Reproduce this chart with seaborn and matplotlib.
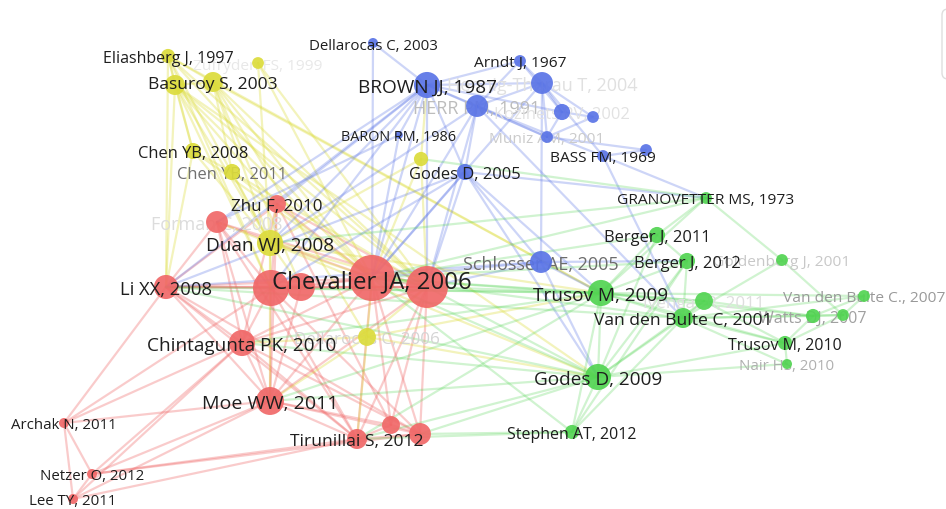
import matplotlib
matplotlib.use("Agg")
import matplotlib.pyplot as plt
import numpy as np
import pandas as pd
import seaborn as sns
from matplotlib.collections import LineCollection
from matplotlib.patches import FancyBboxPatch

# ---------------------------------------------------------------
# Co-citation network: nodes (layout coordinates, weight, cluster)
# ---------------------------------------------------------------
node_ids = [
    # cluster 1 (red)
    "chevalier06", "liu06", "dell07", "duan08b", "lixx08", "forman08", "zhu10",
    "chinta10", "moe11", "tirun12", "red392", "red420", "archak11", "netzer12", "lee11",
    # cluster 2 (yellow)
    "eliash97", "yel175", "basur03", "yel258", "chen08", "chen11", "duan08", "yel421", "dell06",
    # cluster 3 (blue)
    "dell03", "arndt67", "brown87", "thurau04", "herr91", "koz02", "blue593", "muniz01",
    "baron86", "bass69", "blue646", "godes05", "schloss05",
    # cluster 4 (green)
    "granov73", "berger11", "berger12", "golden01", "trusov09", "iyengar11", "vdb01",
    "vdb07", "watts07", "green843", "trusov10", "nair10", "godes09", "stephen12",
]

node_labels = [
    "Chevalier JA, 2006", "", "", "", "Li XX, 2008", "Forman C, 2008", "Zhu F, 2010",
    "Chintagunta PK, 2010", "Moe WW, 2011", "Tirunillai S, 2012", "", "", "Archak N, 2011",
    "Netzer O, 2012", "Lee TY, 2011",
    "Eliashberg J, 1997", "", "Basuroy S, 2003", "Zufryden FS, 1999", "Chen YB, 2008",
    "Chen YB, 2011", "Duan WJ, 2008", "", "Dellarocas C, 2006",
    "Dellarocas C, 2003", "Arndt J, 1967", "BROWN JJ, 1987", "Hennig-Thurau T, 2004",
    "HERR PM, 1991", "Kozinets RV, 2002", "", "Muniz AM, 2001", "BARON RM, 1986",
    "BASS FM, 1969", "", "Godes D, 2005", "Schlosser AE, 2005",
    "GRANOVETTER MS, 1973", "Berger J, 2011", "Berger J, 2012", "Goldenberg J, 2001",
    "Trusov M, 2009", "Iyengar R, 2011", "Van den Bulte C, 2001", "Van den Bulte C., 2007",
    "Watts DJ, 2007", "", "Trusov M, 2010", "Nair HS, 2010", "Godes D, 2009",
    "Stephen AT, 2012",
]

node_x = [
    372, 427, 271, 301, 166, 217, 277, 242, 270, 357, 391, 420, 64, 92, 73,
    168, 175, 213, 258, 193, 232, 270, 421, 367,
    373, 520, 427, 542, 477, 562, 593, 547, 399, 603, 646, 465, 541,
    706, 657, 687, 782, 601, 704, 683, 864, 813, 843, 785, 787, 598, 572,
]

node_y = [
    279, 288, 289, 288, 288, 223, 205, 344, 402, 440, 426, 435, 424, 475, 500,
    57, 86, 83, 64, 152, 173, 244, 160, 338,
    44, 62, 86, 84, 107, 113, 118, 138, 136, 157, 151, 173, 263,
    199, 236, 262, 261, 294, 302, 319, 297, 317, 316, 344, 365, 378, 433,
]

node_weight = [
    106, 88, 65, 39, 29, 24, 16, 34, 39, 20, 16, 24, 5, 5, 5,
    10, 20, 20, 7, 13, 13, 34, 10, 16,
    5, 7, 34, 24, 24, 13, 7, 7, 3, 7, 7, 13, 24,
    7, 13, 13, 7, 34, 16, 20, 7, 10, 7, 10, 5, 34, 10,
]

node_cluster = (["1"] * 15) + (["2"] * 9) + (["3"] * 13) + (["4"] * 14)

edges = [
    # cluster 1
    ("lixx08", "chevalier06"), ("lixx08", "liu06"), ("lixx08", "dell07"), ("lixx08", "duan08b"),
    ("lixx08", "forman08"), ("lixx08", "zhu10"), ("lixx08", "chinta10"), ("lixx08", "moe11"),
    ("lixx08", "tirun12"), ("lixx08", "red420"), ("lixx08", "archak11"),
    ("forman08", "chevalier06"), ("forman08", "liu06"), ("forman08", "dell07"),
    ("forman08", "moe11"), ("forman08", "chinta10"), ("forman08", "tirun12"),
    ("zhu10", "chevalier06"), ("zhu10", "liu06"), ("zhu10", "dell07"), ("zhu10", "moe11"),
    ("zhu10", "chinta10"), ("zhu10", "red392"),
    ("chinta10", "chevalier06"), ("chinta10", "liu06"), ("chinta10", "dell07"),
    ("chinta10", "moe11"), ("chinta10", "tirun12"), ("chinta10", "red420"),
    ("chinta10", "archak11"), ("chinta10", "netzer12"),
    ("moe11", "chevalier06"), ("moe11", "liu06"), ("moe11", "dell07"), ("moe11", "duan08b"),
    ("moe11", "tirun12"), ("moe11", "red392"), ("moe11", "red420"), ("moe11", "netzer12"),
    ("moe11", "lee11"), ("moe11", "archak11"),
    ("tirun12", "chevalier06"), ("tirun12", "liu06"), ("tirun12", "red392"),
    ("tirun12", "red420"), ("tirun12", "netzer12"), ("tirun12", "dell07"),
    ("red392", "chevalier06"), ("red392", "liu06"), ("red392", "red420"),
    ("red420", "chevalier06"), ("red420", "liu06"), ("red420", "dell07"), ("red420", "netzer12"),
    ("chevalier06", "liu06"), ("chevalier06", "dell07"), ("chevalier06", "duan08b"),
    ("liu06", "dell07"), ("liu06", "duan08b"), ("dell07", "duan08b"),
    ("archak11", "netzer12"), ("archak11", "lee11"), ("netzer12", "lee11"),
    ("lee11", "chinta10"), ("lee11", "tirun12"), ("archak11", "dell07"),
    # cluster 2
    ("eliash97", "yel175"), ("eliash97", "basur03"), ("eliash97", "chen08"),
    ("eliash97", "duan08"), ("eliash97", "chevalier06"), ("eliash97", "liu06"),
    ("eliash97", "dell07"), ("eliash97", "trusov09"), ("eliash97", "lixx08"),
    ("yel175", "basur03"), ("yel175", "lixx08"), ("yel175", "chen08"), ("yel175", "duan08"),
    ("yel175", "chevalier06"), ("yel175", "liu06"), ("yel175", "dell07"),
    ("yel175", "godes09"), ("yel175", "zhu10"),
    ("basur03", "chen11"), ("basur03", "duan08"), ("basur03", "chevalier06"),
    ("basur03", "liu06"), ("basur03", "dell06"), ("basur03", "trusov09"), ("basur03", "duan08b"),
    ("yel258", "chevalier06"), ("yel258", "liu06"), ("yel258", "duan08"),
    ("chen08", "chen11"), ("chen08", "duan08"), ("chen08", "chevalier06"), ("chen08", "lixx08"),
    ("chen11", "duan08"), ("chen11", "chevalier06"), ("chen11", "liu06"),
    ("duan08", "chevalier06"), ("duan08", "liu06"), ("duan08", "dell07"), ("duan08", "duan08b"),
    ("duan08", "godes09"), ("duan08", "trusov09"), ("duan08", "zhu10"), ("duan08", "forman08"),
    ("duan08", "moe11"),
    ("yel421", "brown87"), ("yel421", "chevalier06"), ("yel421", "duan08"), ("yel421", "liu06"),
    ("dell06", "chevalier06"), ("dell06", "liu06"), ("dell06", "trusov09"),
    ("dell06", "godes09"), ("dell06", "moe11"), ("dell06", "chinta10"), ("dell06", "tirun12"),
    # cluster 3
    ("brown87", "arndt67"), ("brown87", "thurau04"), ("brown87", "herr91"),
    ("brown87", "baron86"), ("brown87", "godes05"), ("brown87", "chevalier06"),
    ("brown87", "duan08"), ("brown87", "lixx08"), ("brown87", "zhu10"), ("brown87", "liu06"),
    ("brown87", "forman08"), ("brown87", "muniz01"), ("brown87", "koz02"), ("brown87", "dell07"),
    ("arndt67", "thurau04"), ("arndt67", "herr91"), ("arndt67", "koz02"),
    ("thurau04", "schloss05"), ("thurau04", "herr91"), ("thurau04", "koz02"),
    ("thurau04", "muniz01"), ("thurau04", "bass69"), ("thurau04", "blue593"),
    ("thurau04", "chevalier06"),
    ("herr91", "muniz01"), ("herr91", "bass69"), ("herr91", "godes05"),
    ("herr91", "chevalier06"), ("herr91", "duan08"), ("herr91", "liu06"),
    ("dell03", "chevalier06"), ("dell03", "brown87"),
    ("koz02", "muniz01"), ("koz02", "blue593"),
    ("muniz01", "blue646"), ("muniz01", "blue593"),
    ("baron86", "forman08"), ("baron86", "chevalier06"),
    ("bass69", "blue646"),
    ("godes05", "chevalier06"), ("godes05", "liu06"), ("godes05", "trusov09"),
    ("godes05", "godes09"), ("godes05", "schloss05"), ("godes05", "lixx08"), ("godes05", "dell07"),
    ("schloss05", "chevalier06"), ("schloss05", "liu06"), ("schloss05", "trusov09"),
    ("schloss05", "godes09"), ("schloss05", "berger12"), ("schloss05", "lixx08"),
    # cluster 4
    ("herr91", "vdb01"), ("bass69", "vdb01"), ("bass69", "granov73"), ("godes05", "granov73"),
    ("trusov09", "godes09"), ("trusov09", "vdb01"), ("trusov09", "iyengar11"),
    ("trusov09", "berger11"), ("trusov09", "berger12"), ("trusov09", "granov73"),
    ("trusov09", "trusov10"), ("trusov09", "watts07"), ("trusov09", "stephen12"),
    ("trusov09", "chevalier06"), ("trusov09", "liu06"), ("trusov09", "lixx08"),
    ("trusov09", "dell07"), ("trusov09", "moe11"), ("trusov09", "chinta10"),
    ("trusov09", "tirun12"), ("trusov09", "vdb07"),
    ("godes09", "vdb01"), ("godes09", "iyengar11"), ("godes09", "stephen12"),
    ("godes09", "trusov10"), ("godes09", "nair10"), ("godes09", "chevalier06"),
    ("godes09", "liu06"), ("godes09", "moe11"), ("godes09", "tirun12"), ("godes09", "chinta10"),
    ("godes09", "lixx08"), ("godes09", "berger12"), ("godes09", "red420"),
    ("vdb01", "iyengar11"), ("vdb01", "watts07"), ("vdb01", "green843"), ("vdb01", "trusov10"),
    ("vdb01", "nair10"), ("vdb01", "vdb07"), ("vdb01", "berger12"), ("vdb01", "chevalier06"),
    ("vdb01", "lixx08"),
    ("granov73", "berger11"), ("granov73", "chevalier06"), ("granov73", "duan08"),
    ("granov73", "yel421"), ("granov73", "golden01"),
    ("berger11", "berger12"), ("berger11", "chevalier06"), ("berger11", "godes09"),
    ("berger12", "stephen12"), ("berger12", "chevalier06"),
    ("golden01", "green843"), ("golden01", "vdb01"),
    ("watts07", "green843"), ("watts07", "vdb07"), ("watts07", "trusov10"), ("watts07", "iyengar11"),
    ("green843", "vdb07"), ("green843", "trusov10"),
    ("trusov10", "iyengar11"), ("trusov10", "nair10"),
    ("stephen12", "tirun12"), ("stephen12", "red420"), ("stephen12", "chevalier06"),
    ("stephen12", "vdb01"), ("iyengar11", "chevalier06"),
]

# ---------------------------------------------------------------
# Styling
# ---------------------------------------------------------------
cluster_colors = {"1": "#f06868", "2": "#dcdc3c", "3": "#5a74e6", "4": "#52d452"}
edge_alpha = {"1": 0.34, "2": 0.34, "3": 0.30, "4": 0.27}

# labels drawn in grey (partly hidden behind neighbours)
label_grey = {
    "forman08": "#dcdcdc", "chen11": "#707070", "yel258": "#e8e8e8", "herr91": "#bcbcbc",
    "muniz01": "#cbcbcb", "thurau04": "#e0e0e0", "koz02": "#e2e2e2", "schloss05": "#6c6c6c",
    "golden01": "#c8c8c8", "iyengar11": "#dedede", "vdb07": "#999999", "watts07": "#a0a0a0",
    "nair10": "#b0b0b0", "dell06": "#d4d4d4",
}

nodes = pd.DataFrame({
    "id": node_ids, "label": node_labels, "x": node_x, "y": node_y,
    "weight": node_weight, "cluster": node_cluster,
}).set_index("id", drop=False)

W, H, DPI = 946, 510, 100
fig = plt.figure(figsize=(W / DPI, H / DPI), dpi=DPI, facecolor="white")
ax = fig.add_axes([0, 0, 1, 1])
ax.set_facecolor("white")

# edges, coloured by the cluster of their first endpoint
segs, cols = [], []
for a, b in edges:
    ca = nodes.at[a, "cluster"]
    segs.append([(nodes.at[a, "x"], nodes.at[a, "y"]), (nodes.at[b, "x"], nodes.at[b, "y"])])
    cols.append(matplotlib.colors.to_rgba(cluster_colors[ca], edge_alpha[ca]))
ax.add_collection(LineCollection(segs, colors=cols, linewidths=1.6, zorder=1,
                                 capstyle="round"))

# nodes: marker area proportional to weight (radius in px ~ sqrt(5*weight))
px2pt = 72.0 / DPI
area_per_weight = (2 * px2pt) ** 2 * 5
wmax = max(node_weight)
sns.scatterplot(data=nodes, x="x", y="y", hue="cluster", palette=cluster_colors,
                size="weight", sizes=(0, area_per_weight * wmax), size_norm=(0, wmax),
                linewidth=0, alpha=0.92, legend=False, ax=ax, zorder=2)

# labels centred on their node, size growing with the node radius;
# grey labels sit under the nodes, dark ones above
font = "Open Sans"
for i in range(len(nodes)):
    row = nodes.iloc[i]
    if not row["label"]:
        continue
    r = np.sqrt(5 * row["weight"])
    fs = 9.0 + 0.36 * r
    grey = row["id"] in label_grey
    color = label_grey.get(row["id"], "#1e1e1e")
    ax.text(row["x"], row["y"], row["label"], ha="center", va="center_baseline",
            fontsize=fs, family=font, color=color, zorder=1.5 if grey else 3)

# rounded panel edge at the top right
ax.add_patch(FancyBboxPatch((942, 10), 30, 70, boxstyle="round,pad=0,rounding_size=6",
                            facecolor="white", edgecolor="#dedede", linewidth=1.0,
                            zorder=4, clip_on=False))

ax.set_xlim(0, W)
ax.set_ylim(H, 0)
ax.set_axis_off()
fig.savefig("out.png", dpi=DPI, facecolor="white")
